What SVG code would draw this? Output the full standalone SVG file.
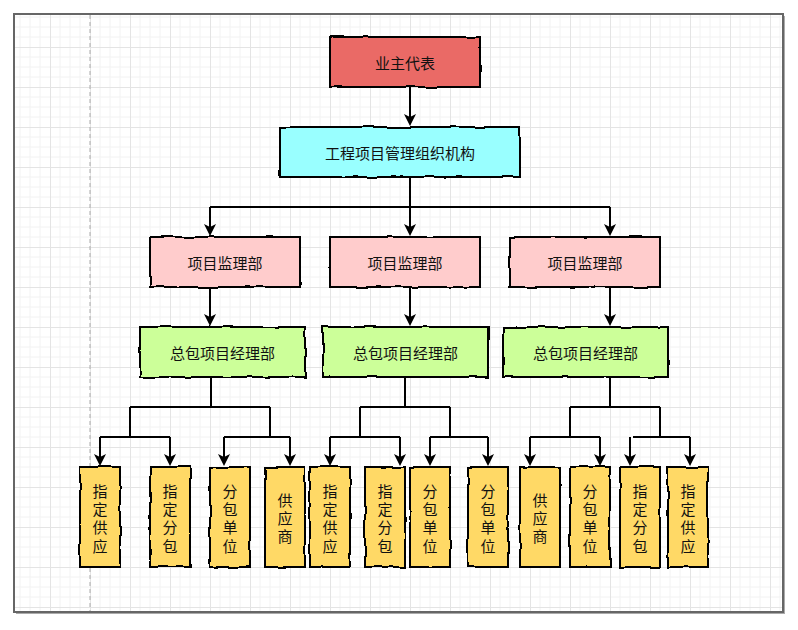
<svg xmlns="http://www.w3.org/2000/svg" width="798" height="630" viewBox="0 0 798 630">
<style>
.box{stroke:#000;stroke-width:2;filter:url(#rough)}
.t{font-family:"Noto Sans CJK SC","Liberation Sans",sans-serif;font-size:15px;fill:#111;text-anchor:middle;dominant-baseline:central}
.c{fill:none;stroke:#000;stroke-width:2}
.a{fill:none;stroke:#000;stroke-width:2;marker-end:url(#arr)}
</style>
<defs>
<pattern id="grid" patternUnits="userSpaceOnUse" x="10" y="7" width="40" height="40">
<path d="M10,0V40M20,0V40M30,0V40M0,10H40M0,20H40M0,30H40" stroke="#f2f2f2" stroke-width="1" fill="none"/>
<path d="M0.5,0V40M0,0.5H40" stroke="#e4e4e4" stroke-width="1" fill="none"/>
</pattern>
<filter id="rough" x="-20%" y="-20%" width="140%" height="140%">
<feTurbulence type="fractalNoise" baseFrequency="0.05" numOctaves="2" seed="4"/>
<feDisplacementMap in="SourceGraphic" scale="3" xChannelSelector="R" yChannelSelector="G"/>
</filter>
<marker id="arr" markerUnits="userSpaceOnUse" markerWidth="14" markerHeight="14" refX="10" refY="6" orient="auto">
<path d="M0,0L12,6L0,12L3,6Z" fill="#000"/>
</marker>
</defs>
<rect x="0" y="0" width="798" height="630" fill="#fff"/>
<rect x="16" y="16" width="769" height="598" fill="#aaa"/>
<rect x="14" y="14" width="769" height="598" fill="#fff" stroke="#666" stroke-width="2"/>
<rect x="15" y="15" width="767" height="596" fill="url(#grid)"/>
<line x1="90" y1="15" x2="90" y2="611" stroke="#aaa" stroke-width="1" stroke-dasharray="4,3"/>

<g id="connectors">
<path class="a" d="M410,87V124"/>
<path class="c" d="M410,177V207M210,207H610"/>
<path class="a" d="M210,207V234"/>
<path class="a" d="M410,207V234"/>
<path class="a" d="M610,207V234"/>
<path class="a" d="M210,287V324"/>
<path class="a" d="M410,287V324"/>
<path class="a" d="M610,287V324"/>
<path class="c" d="M211,377V407M130,407H270M130,407V437M100,437H170M270,407V437M224,437H290"/>
<path class="a" d="M100,437V464"/>
<path class="a" d="M170,437V464"/>
<path class="a" d="M224,437V464"/>
<path class="a" d="M290,437V464"/>
<path class="c" d="M405,377V407M360,407H450M360,407V437M330,437H400M450,407V437M430,437H488"/>
<path class="a" d="M330,437V464"/>
<path class="a" d="M400,437V464"/>
<path class="a" d="M430,437V464"/>
<path class="a" d="M488,437V464"/>
<path class="c" d="M610,377V407M570,407H660M570,407V437M530,437H600M660,407V437M633,437H690"/>
<path class="a" d="M530,437V464"/>
<path class="a" d="M600,437V464"/>
<path class="a" d="M630,437V464"/>
<path class="a" d="M690,437V464"/>
</g>

<g id="owner"><rect class="box" x="330" y="37" width="150" height="50" fill="#EA6B66"/><text class="t" x="405" y="62">业主代表</text></g>
<g id="pmo"><rect class="box" x="280" y="127" width="240" height="50" fill="#99FFFF"/><text class="t" x="400" y="152">工程项目管理组织机构</text></g>

<g id="sup1"><rect class="box" x="150" y="237" width="150" height="50" fill="#FFCCCC"/><text class="t" x="225" y="262">项目监理部</text></g>
<g id="sup2"><rect class="box" x="330" y="237" width="150" height="50" fill="#FFCCCC"/><text class="t" x="405" y="262">项目监理部</text></g>
<g id="sup3"><rect class="box" x="510" y="237" width="150" height="50" fill="#FFCCCC"/><text class="t" x="585" y="262">项目监理部</text></g>

<g id="gc1"><rect class="box" x="140" y="327" width="165" height="50" fill="#CCFF99"/><text class="t" x="222.5" y="352">总包项目经理部</text></g>
<g id="gc2"><rect class="box" x="323" y="327" width="165" height="50" fill="#CCFF99"/><text class="t" x="405.5" y="352">总包项目经理部</text></g>
<g id="gc3"><rect class="box" x="503" y="327" width="165" height="50" fill="#CCFF99"/><text class="t" x="585.5" y="352">总包项目经理部</text></g>

<g id="l1"><rect class="box" x="80" y="467" width="40" height="100" fill="#FFD966"/><text class="t"><tspan x="100" y="489.5">指</tspan><tspan x="100" y="507.8">定</tspan><tspan x="100" y="526.2">供</tspan><tspan x="100" y="544.5">应</tspan></text></g>
<g id="l2"><rect class="box" x="150" y="467" width="40" height="100" fill="#FFD966"/><text class="t"><tspan x="170" y="489.5">指</tspan><tspan x="170" y="507.8">定</tspan><tspan x="170" y="526.2">分</tspan><tspan x="170" y="544.5">包</tspan></text></g>
<g id="l3"><rect class="box" x="210" y="467" width="40" height="100" fill="#FFD966"/><text class="t"><tspan x="230" y="489.5">分</tspan><tspan x="230" y="507.8">包</tspan><tspan x="230" y="526.2">单</tspan><tspan x="230" y="544.5">位</tspan></text></g>
<g id="l4"><rect class="box" x="265" y="467" width="40" height="100" fill="#FFD966"/><text class="t"><tspan x="285" y="498.7">供</tspan><tspan x="285" y="517">应</tspan><tspan x="285" y="535.3">商</tspan></text></g>

<g id="m1"><rect class="box" x="310" y="467" width="40" height="100" fill="#FFD966"/><text class="t"><tspan x="330" y="489.5">指</tspan><tspan x="330" y="507.8">定</tspan><tspan x="330" y="526.2">供</tspan><tspan x="330" y="544.5">应</tspan></text></g>
<g id="m2"><rect class="box" x="365" y="467" width="40" height="100" fill="#FFD966"/><text class="t"><tspan x="385" y="489.5">指</tspan><tspan x="385" y="507.8">定</tspan><tspan x="385" y="526.2">分</tspan><tspan x="385" y="544.5">包</tspan></text></g>
<g id="m3"><rect class="box" x="410" y="467" width="40" height="100" fill="#FFD966"/><text class="t"><tspan x="430" y="489.5">分</tspan><tspan x="430" y="507.8">包</tspan><tspan x="430" y="526.2">单</tspan><tspan x="430" y="544.5">位</tspan></text></g>
<g id="m4"><rect class="box" x="468" y="467" width="40" height="100" fill="#FFD966"/><text class="t"><tspan x="488" y="489.5">分</tspan><tspan x="488" y="507.8">包</tspan><tspan x="488" y="526.2">单</tspan><tspan x="488" y="544.5">位</tspan></text></g>

<g id="r1"><rect class="box" x="520" y="467" width="40" height="100" fill="#FFD966"/><text class="t"><tspan x="540" y="498.7">供</tspan><tspan x="540" y="517">应</tspan><tspan x="540" y="535.3">商</tspan></text></g>
<g id="r2"><rect class="box" x="570" y="467" width="40" height="100" fill="#FFD966"/><text class="t"><tspan x="590" y="489.5">分</tspan><tspan x="590" y="507.8">包</tspan><tspan x="590" y="526.2">单</tspan><tspan x="590" y="544.5">位</tspan></text></g>
<g id="r3"><rect class="box" x="620" y="467" width="40" height="100" fill="#FFD966"/><text class="t"><tspan x="640" y="489.5">指</tspan><tspan x="640" y="507.8">定</tspan><tspan x="640" y="526.2">分</tspan><tspan x="640" y="544.5">包</tspan></text></g>
<g id="r4"><rect class="box" x="668" y="467" width="40" height="100" fill="#FFD966"/><text class="t"><tspan x="688" y="489.5">指</tspan><tspan x="688" y="507.8">定</tspan><tspan x="688" y="526.2">供</tspan><tspan x="688" y="544.5">应</tspan></text></g>
</svg>
